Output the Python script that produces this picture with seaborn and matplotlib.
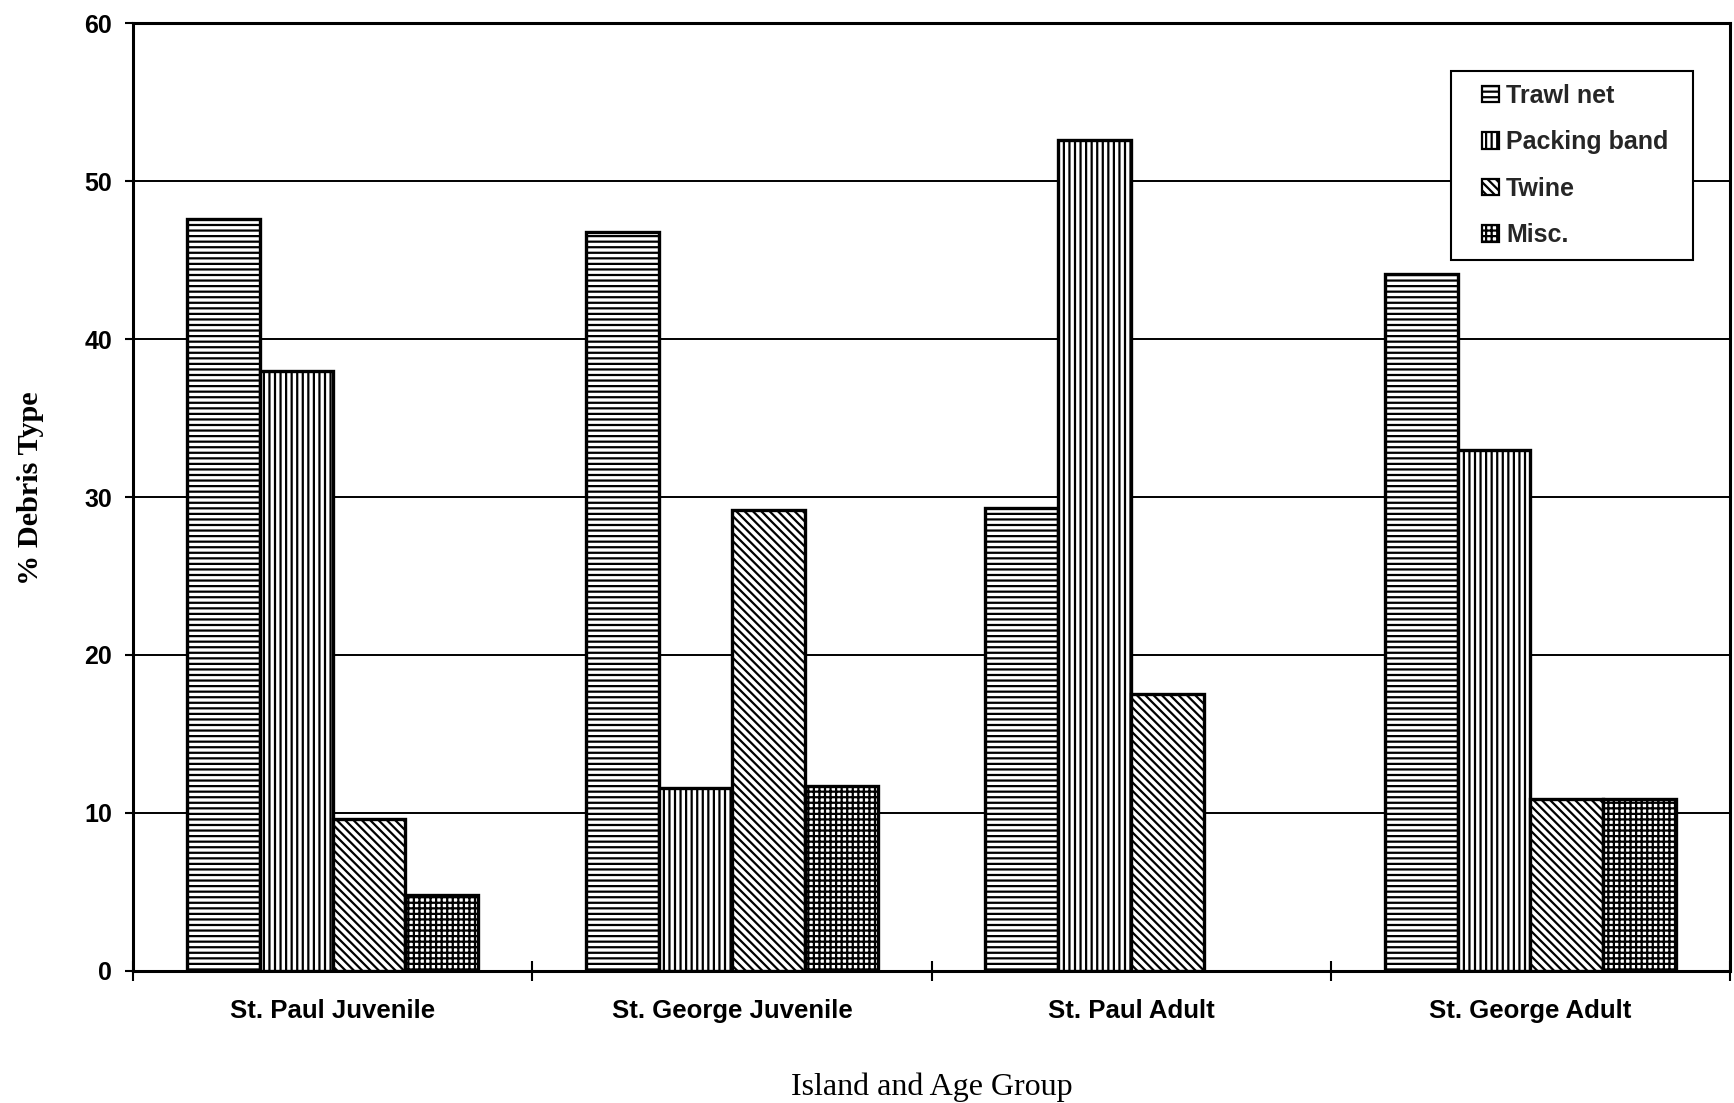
import matplotlib
matplotlib.use("Agg")
import matplotlib.pyplot as plt
from matplotlib.patches import Patch, Rectangle
from matplotlib.legend_handler import HandlerPatch
import seaborn as sns
import pandas as pd

# Debris composition (%) by island and age group
groups = ["St. Paul Juvenile", "St. George Juvenile", "St. Paul Adult", "St. George Adult"]
debris_types = ["Trawl net", "Packing band", "Twine", "Misc."]
trawl_net = [47.6, 46.8, 29.3, 44.1]
packing_band = [38.0, 11.6, 52.6, 33.0]
twine = [9.6, 29.2, 17.5, 10.9]
misc = [4.8, 11.7, 0.0, 10.9]

series = [trawl_net, packing_band, twine, misc]
hatches = ["---", "|||", "\\\\\\\\", "+++"]

df = pd.DataFrame(
    [(g, t, vals[i]) for t, vals in zip(debris_types, series) for i, g in enumerate(groups)],
    columns=["group", "type", "value"],
)

sns.set_theme(style="white")
plt.rcParams["hatch.linewidth"] = 1.6
plt.rcParams["font.family"] = ["Liberation Sans", "DejaVu Sans"]


class SquareRightHandler(HandlerPatch):
    """Draws the legend key as a small square at the right end of the handle box."""

    def create_artists(self, legend, orig_handle, xdescent, ydescent,
                       width, height, fontsize, trans):
        side = height * 1.05
        r = Rectangle((width - side - xdescent, -ydescent + (height - side) / 2),
                      side, side, facecolor="white", edgecolor="black",
                      hatch=orig_handle.get_hatch(), linewidth=1.6, transform=trans)
        return [r]


fig = plt.figure(figsize=(17.34, 11.03), dpi=100)
ax = fig.add_axes([0.0767, 0.1197, 0.9210, 0.8594])

sns.barplot(
    data=df, x="group", y="value", hue="type", order=groups, hue_order=debris_types,
    width=0.73, ax=ax, legend=False, palette=["white"] * 4,
    edgecolor="black", linewidth=2.4, saturation=1,
)

for container, h in zip(ax.containers, hatches):
    for bar in container:
        bar.set_facecolor("white")
        bar.set_edgecolor("black")
        bar.set_hatch(h)
        bar.set_zorder(3)
        if bar.get_height() == 0:
            bar.set_linewidth(0)

ax.set_xlim(-0.5, 3.5)
ax.set_ylim(0, 60)
ax.set_yticks(range(0, 61, 10))
ax.yaxis.grid(True, color="black", linewidth=1.4)
ax.set_axisbelow(True)

for s in ax.spines.values():
    s.set_visible(True)
    s.set_color("black")
    s.set_linewidth(2.2)

ax.tick_params(axis="y", which="major", length=6, width=1.5, color="black",
               direction="out", pad=9, labelsize=18, left=True)
ax.tick_params(axis="x", which="major", length=0, pad=20, labelsize=18.5)
ax.set_xticks([-0.5, 0.5, 1.5, 2.5, 3.5], minor=True)
ax.tick_params(axis="x", which="minor", length=14, width=1.5, color="black",
               direction="inout", bottom=True)
for lbl in ax.get_xticklabels() + ax.get_yticklabels():
    lbl.set_fontweight("bold")
    lbl.set_color("black")

ax.set_xlabel("Island and Age Group", family=["Liberation Serif", "DejaVu Serif"],
              fontsize=23, labelpad=36, color="black")
ax.set_ylabel("% Debris Type", family=["Liberation Serif", "DejaVu Serif"],
              fontsize=21.8, fontweight="bold", labelpad=29, color="black")
ax.yaxis.label.set_y(0.509)

handles = [Patch(facecolor="white", edgecolor="black", hatch=h, linewidth=1.5)
           for h in hatches]
leg = ax.legend(
    handles, debris_types, loc="upper right",
    bbox_to_anchor=(0.8253, 0.5, 0.1515, 0.449), mode="expand",
    borderaxespad=0, frameon=True, fancybox=False, edgecolor="black",
    prop={"family": ["Liberation Sans", "DejaVu Sans"], "weight": "bold", "size": 18},
    handlelength=1.4, handleheight=0.6, handletextpad=0.3, labelspacing=0.9,
    borderpad=0.5, handler_map={Patch: SquareRightHandler()},
)
leg.get_frame().set_linewidth(1.5)
leg.get_frame().set_alpha(1)
leg.set_zorder(5)

fig.savefig("out.png", dpi=100, facecolor="white")
